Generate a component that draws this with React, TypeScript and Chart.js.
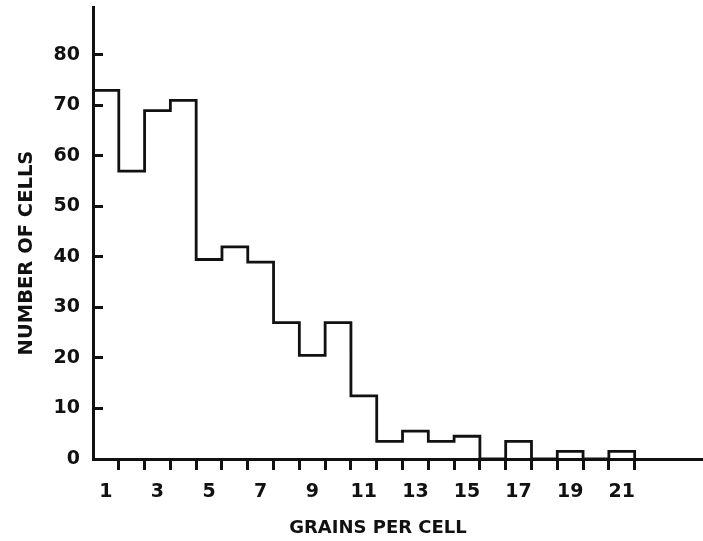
import React, { useEffect, useRef } from "react";
import { Chart, registerables } from "chart.js";

Chart.register(...registerables);

// Bin centres (grains per cell) and counts (number of cells)
const binCenters = [1, 2, 3, 4, 5, 6, 7, 8, 9, 10, 11, 12, 13, 14, 15, 16, 17, 18, 19, 20, 21];
const cellCounts = [73, 57, 69, 71, 39.5, 42, 39, 27, 20.5, 27, 12.5, 3.5, 5.5, 3.5, 4.5, 0, 3.5, 0, 1.5, 0, 1.5];
const oddTickLabels = ["1", "3", "5", "7", "9", "11", "13", "15", "17", "19", "21"];
const yTickValues = [0, 10, 20, 30, 40, 50, 60, 70, 80];
const xTitle = "GRAINS PER CELL";
const yTitle = "NUMBER OF CELLS";

const FONT = "'DejaVu Sans', sans-serif";
const INK = "#111";

const axisTitlePlugin = {
  id: "axisTitles",
  afterDraw(chart: any) {
    const { ctx, chartArea } = chart;
    ctx.save();
    ctx.fillStyle = INK;
    ctx.textAlign = "center";
    ctx.textBaseline = "middle";
    ctx.font = `bold 18px ${FONT}`;
    ctx.fillText(xTitle, chartArea.left + 285, chartArea.bottom + 69);
    ctx.translate(chartArea.left - 66, chartArea.top + 246);
    ctx.rotate(-Math.PI / 2);
    ctx.font = `bold 19.5px ${FONT}`;
    ctx.fillText(yTitle, 0, 0);
    ctx.restore();
  },
};

export default function App() {
  const ref = useRef<HTMLCanvasElement | null>(null);

  useEffect(() => {
    if (!ref.current) return;
    const points = binCenters.map((c, i) => ({ x: c - 0.5, y: cellCounts[i] }));
    const last = binCenters[binCenters.length - 1];
    points.push({ x: last + 0.5, y: 0 });

    const chart = new Chart(ref.current, {
      type: "line",
      data: {
        datasets: [
          {
            data: points,
            stepped: "before",
            borderColor: INK,
            borderWidth: 2.8,
            pointRadius: 0,
            fill: false,
            tension: 0,
          },
        ],
      },
      options: {
        responsive: false,
        animation: false,
        layout: { padding: { top: 7, right: 0, left: 0, bottom: 0 } },
        plugins: { legend: { display: false }, tooltip: { enabled: false }, title: { display: false } },
        scales: {
          x: {
            type: "linear",
            min: 0.5,
            max: 24.15,
            afterBuildTicks: (scale: any) => {
              const t: any[] = [];
              binCenters.forEach((c) => {
                t.push({ value: c });
                t.push({ value: c + 0.5 });
              });
              scale.ticks = t;
            },
            afterFit: (scale: any) => {
              scale.height = 82;
              scale.paddingLeft = 0;
              scale.paddingRight = 0;
            },
            border: { display: true, color: INK, width: 3 },
            grid: {
              drawOnChartArea: false,
              drawTicks: true,
              tickLength: 11,
              tickWidth: 3,
              lineWidth: 3,
              tickColor: (ctx: any) =>
                ctx.tick && Number.isInteger(ctx.tick.value) ? "rgba(0,0,0,0)" : INK,
            },
            ticks: {
              autoSkip: false,
              maxRotation: 0,
              padding: 11,
              color: INK,
              font: { family: FONT, size: 19, weight: "bold" },
              callback: (v: any) => {
                const s = String(v);
                return oddTickLabels.includes(s) ? s : "";
              },
            },
          },
          y: {
            type: "linear",
            min: 0,
            max: 89.5,
            afterBuildTicks: (scale: any) => {
              scale.ticks = yTickValues.map((v) => ({ value: v }));
            },
            afterFit: (scale: any) => {
              scale.width = 93;
              scale.paddingTop = 0;
              scale.paddingBottom = 0;
            },
            border: { display: true, color: INK, width: 3 },
            grid: {
              drawOnChartArea: false,
              drawTicks: true,
              tickLength: -10,
              tickWidth: 3,
              lineWidth: 3,
              tickColor: (ctx: any) => (ctx.tick && ctx.tick.value === 0 ? "rgba(0,0,0,0)" : INK),
            },
            ticks: {
              autoSkip: false,
              padding: 23,
              color: INK,
              font: { family: FONT, size: 19, weight: "bold" },
              callback: (v: any) => String(v),
            },
          },
        },
      } as any,
      plugins: [axisTitlePlugin],
    });
    return () => chart.destroy();
  }, []);

  return (
    <div style={{ position: "fixed", left: 0, top: 0, width: 703, height: 541, background: "#fff" }}>
      <canvas ref={ref} width={703} height={541} style={{ width: 703, height: 541 }} />
    </div>
  );
}
